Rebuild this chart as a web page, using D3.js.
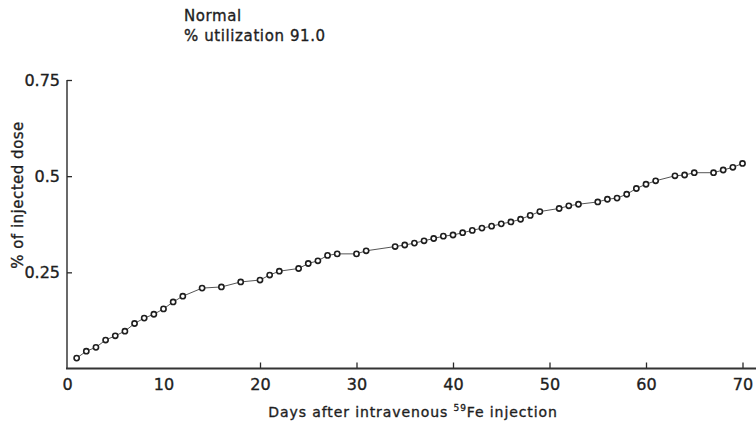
<!DOCTYPE html>
<html>
<head>
<meta charset="utf-8">
<script src="https://cdn.jsdelivr.net/npm/d3@7"></script>
<style>
  html, body { margin: 0; padding: 0; background: #fff; }
  svg text { font-family: "DejaVu Sans", sans-serif; fill: #1e1e1e; stroke: #1e1e1e; stroke-width: 0.35px; }
</style>
</head>
<body>
<div id="visualization"></div>
<script>
// --- Data ---
const days = [1, 2, 3, 4, 5, 6, 7, 8, 9, 10, 11, 12, 14, 16, 18, 20, 21, 22, 24, 25,
  26, 27, 28, 30, 31, 34, 35, 36, 37, 38, 39, 40, 41, 42, 43, 44, 45, 46, 47, 48,
  49, 51, 52, 53, 55, 56, 57, 58, 59, 60, 61, 63, 64, 65, 67, 68, 69, 70];
const doses = [0.027, 0.045, 0.055, 0.074, 0.085, 0.097, 0.117, 0.131, 0.141, 0.155,
  0.173, 0.188, 0.209, 0.212, 0.225, 0.230, 0.243, 0.253, 0.260, 0.273,
  0.280, 0.294, 0.298, 0.298, 0.306, 0.317, 0.321, 0.326, 0.332, 0.338,
  0.344, 0.347, 0.353, 0.359, 0.365, 0.370, 0.376, 0.381, 0.388, 0.398,
  0.408, 0.416, 0.423, 0.427, 0.433, 0.440, 0.443, 0.453, 0.468, 0.479,
  0.488, 0.501, 0.503, 0.509, 0.509, 0.516, 0.523, 0.533];
const xTickValues = [0, 10, 20, 30, 40, 50, 60, 70];
const xTickLabels = ["0", "10", "20", "30", "40", "50", "60", "70"];
const xTickMarks = [20, 30, 40, 50, 60, 70];
const yTickValues = [0.25, 0.5, 0.75];
const yTickLabels = ["0.25", "0.5", "0.75"];
const titleLines = ["Normal", "% utilization  91.0"];

// --- Layout ---
const SVG_WIDTH = 756;
const SVG_HEIGHT = 431;

const svg = d3.select("#visualization")
  .append("svg")
  .attr("width", SVG_WIDTH)
  .attr("height", SVG_HEIGHT);

const x = d3.scaleLinear().domain([0, 70]).range([67, 742.5]);
const y = d3.scaleLinear().domain([0, 0.75]).range([368.5, 80]);

// --- Axes ---
const yAxis = d3.axisLeft(y)
  .tickValues(yTickValues)
  .tickFormat((d, i) => yTickLabels[i])
  .tickSize(-5)
  .tickSizeOuter(0)
  .tickPadding(7);

const yAxisG = svg.append("g")
  .attr("transform", `translate(${x(0)},0)`)
  .call(yAxis);
yAxisG.select(".domain").remove();
yAxisG.selectAll(".tick line").attr("stroke", "#2a2a2a").attr("stroke-width", 1.3);
yAxisG.selectAll(".tick text").style("font-size", "16px").attr("fill", "#1e1e1e");

svg.append("line")
  .attr("x1", x(0)).attr("x2", x(0))
  .attr("y1", y(0.75)).attr("y2", y(0))
  .attr("stroke", "#2a2a2a").attr("stroke-width", 1.4);

const xAxis = d3.axisBottom(x)
  .tickValues(xTickValues)
  .tickFormat((d, i) => xTickLabels[i])
  .tickSize(-6)
  .tickSizeOuter(0)
  .tickPadding(10);

const xAxisG = svg.append("g")
  .attr("transform", `translate(0,${y(0)})`)
  .call(xAxis);
xAxisG.select(".domain").remove();
xAxisG.selectAll(".tick line")
  .attr("stroke", "#2a2a2a").attr("stroke-width", 1.3)
  .attr("opacity", d => xTickMarks.includes(d) ? 1 : 0);
xAxisG.selectAll(".tick text").style("font-size", "16px").attr("fill", "#1e1e1e");

svg.append("line")
  .attr("x1", x(0) - 1).attr("x2", SVG_WIDTH)
  .attr("y1", y(0)).attr("y2", y(0))
  .attr("stroke", "#333").attr("stroke-width", 1.8);

// --- Axis labels ---
svg.append("text")
  .attr("x", 413)
  .attr("y", 417)
  .attr("text-anchor", "middle")
  .style("font-size", "14px")
  .style("letter-spacing", "0.9px")
  .call(t => {
    t.append("tspan").text("Days after intravenous ");
    t.append("tspan").text("59").attr("dy", -6).style("font-size", "9px");
    t.append("tspan").text("Fe injection").attr("dy", 6);
  });

svg.append("text")
  .attr("transform", `translate(23,${195}) rotate(-90)`)
  .attr("text-anchor", "middle")
  .style("font-size", "15px")
  .style("letter-spacing", "0.5px")
  .text("% of injected dose");

// --- Title ---
svg.selectAll(".title-line")
  .data(titleLines)
  .join("text")
  .attr("class", "title-line")
  .attr("x", 184)
  .attr("y", (d, i) => 21 + i * 20)
  .style("font-size", "15px")
  .style("letter-spacing", "0.6px")
  .text(d => d);

// --- Data line and markers ---
const points = days.map((d, i) => ({ day: d, dose: doses[i] }));

const lineGenerator = d3.line()
  .x(d => x(d.day))
  .y(d => y(d.dose));

svg.append("path")
  .datum(points)
  .attr("fill", "none")
  .attr("stroke", "#555")
  .attr("stroke-width", 1)
  .attr("d", lineGenerator);

svg.selectAll(".pt")
  .data(points)
  .join("circle")
  .attr("class", "pt")
  .attr("cx", d => x(d.day))
  .attr("cy", d => y(d.dose))
  .attr("r", 2.6)
  .attr("fill", "#fff")
  .attr("stroke", "#1e1e1e")
  .attr("stroke-width", 1.6);
</script>
</body>
</html>
